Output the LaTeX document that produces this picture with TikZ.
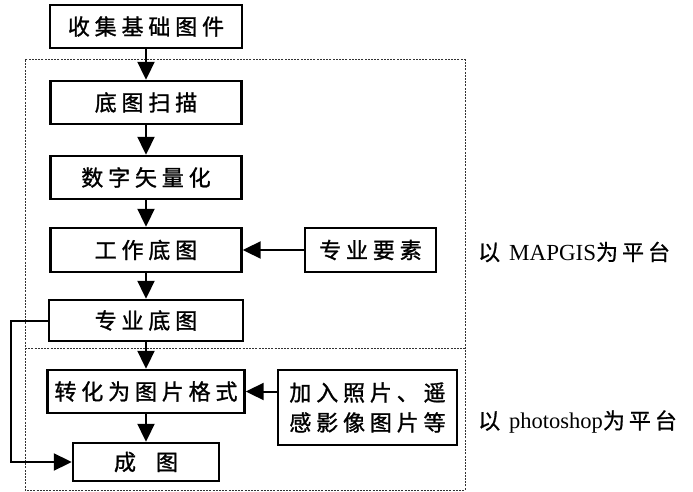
\documentclass[tikz,border=0pt]{standalone}
\usepackage{fontspec}
\newfontfamily\cjk[LetterSpace=22,FakeBold=1.2]{Noto Sans CJK SC}
\newfontfamily\cjkl[LetterSpace=18,FakeBold=0.8]{Noto Sans CJK SC}
\newfontfamily\lat{Liberation Serif}
\usetikzlibrary{arrows.meta}
\tikzset{
  box/.style={draw, line width=2.4pt, inner sep=0pt, align=center, font=\cjk\fontsize{22pt}{30pt}\selectfont},
  arr/.style={line width=2pt, -{Triangle[length=18pt,width=17pt]}},
  frame/.style={line width=1pt, dash pattern=on 2pt off 1.2pt, black!80},
  lbl/.style={anchor=west, inner sep=0pt}
}
\begin{document}
\begin{tikzpicture}[x=1pt,y=-1pt]
\useasboundingbox (0,0) rectangle (693,492);
% dotted frames
\draw[frame] (25,60) rectangle (465,490);
\draw[frame] (25,348) -- (465,348);
% boxes
\node[box, minimum width=192pt, minimum height=43pt] (b1) at (146,26.5) {收集基础图件};
\node[box, minimum width=191pt, minimum height=43pt] (b2) at (146,102.5) {底图扫描};
\node[box, minimum width=191pt, minimum height=43pt] (b3) at (146,177.5) {数字矢量化};
\node[box, minimum width=191pt, minimum height=44pt] (b4) at (146,250) {工作底图};
\node[box, minimum width=131pt, minimum height=44pt] (z) at (370.5,250) {专业要素};
\node[box, minimum width=194pt, minimum height=41pt] (b5) at (146,320.5) {专业底图};
\node[box, minimum width=197pt, minimum height=43pt] (b6) at (146,391.5) {转化为图片格式};
\node[box, minimum width=179pt, minimum height=75pt] (j) at (367.5,407.5) {加入照片、遥\\感影像图片等};
\node[box, minimum width=146pt, minimum height=38pt] (b7) at (146,462) {成\hspace{20pt}图};
% connectors
\draw[arr] (b1) -- (b2);
\draw[arr] (b2) -- (b3);
\draw[arr] (b3) -- (b4);
\draw[arr] (z) -- (b4);
\draw[arr] (b4) -- (b5);
\draw[arr] (b5) -- (b6);
\draw[arr] (b6.east -| j.west) -- (b6.east);
\draw[arr] (b6) -- (b7);
\draw[arr] (b5.west) -- ++(-37,0) |- (b7.west);
% labels
\node[lbl] (l1) at (478,252) {\fontsize{22pt}{25pt}\selectfont{\cjkl 以}\hspace{9pt}{\lat\fontsize{23pt}{25pt}\selectfont MAPGIS}{\cjkl 为平台}};
\node[lbl] (l2) at (478,422) {\fontsize{22pt}{25pt}\selectfont{\cjkl 以}\hspace{9pt}{\lat\fontsize{22.5pt}{25pt}\selectfont photoshop}{\cjkl 为平台}};
\end{tikzpicture}
\end{document}
